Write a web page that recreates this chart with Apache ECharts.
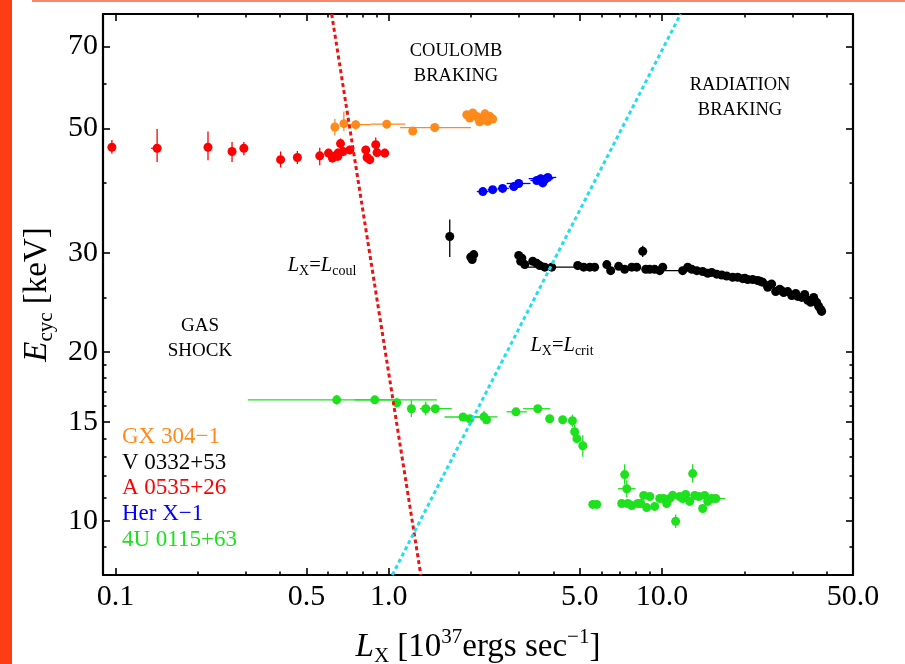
<!DOCTYPE html>
<html>
<head>
<meta charset="utf-8">
<script src="https://cdn.jsdelivr.net/npm/echarts@6/dist/echarts.min.js"></script>
<style>
  html, body { margin: 0; padding: 0; background: #fff; }
  #chart-main { width: 905px; height: 664px; }
</style>
</head>
<body>
<div id="chart-main"></div>
<script>
// axis ranges, ticks
var xRange = [0.09, 50];
var yRange = [8, 80];
var xTickValues = [0.1, 0.5, 1, 5, 10, 50];
var xTickLabels = ['0.1', '0.5', '1.0', '5.0', '10.0', '50.0'];
var xMinorTicks = [0.2, 0.3, 0.4, 0.6, 0.7, 0.8, 0.9, 2, 3, 4, 6, 7, 8, 9, 20, 30, 40];
var yTickValues = [10, 15, 20, 30, 50, 70];
var yTickLabels = ['10', '15', '20', '30', '50', '70'];
var yMinorTicks = [9, 11, 12, 13, 14, 16, 17, 18, 19, 25, 40, 60];

// rows: [Lx, Ecyc, Lx min, Lx max, Ecyc min, Ecyc max] (null = no bar)
var gx304 = [
  [0.635, 50.3, null, null, 48.6, 52.0],
  [0.685, 51.0, null, null, 49.5, 53.6],
  [0.757, 50.8, 0.69, 0.86, 49.8, 51.8],
  [0.983, 50.9, 0.86, 1.15, 50.0, 51.8],
  [1.224, 49.5, null, null, 48.8, 50.3],
  [1.473, 50.2, 1.10, 2.00, 49.4, 51.0],
  [1.93, 52.9], [1.98, 52.2], [2.03, 53.3], [2.08, 52.6], [2.12, 52.4],
  [2.15, 51.4], [2.21, 51.8], [2.25, 53.1], [2.28, 52.2], [2.34, 52.6],
  [2.40, 52.0], [2.30, 51.5]
];
var v0332 = [
  [1.672, 32.1, null, null, 29.5, 34.4],
  [1.995, 29.5], [2.047, 29.8], [2.02, 29.2],
  [2.99, 29.7], [3.04, 29.0], [3.07, 29.35], [3.146, 28.6],
  [3.364, 29.0], [3.479, 28.75], [3.568, 28.5], [3.723, 28.3],
  [3.948, 28.3, 3.146, 5.44, null, null],
  [4.915, 28.5], [5.17, 28.3], [5.44, 28.3], [5.67, 28.3], [6.28, 28.6],
  [6.49, 27.9], [6.94, 28.4], [7.30, 28.05], [7.75, 28.3], [8.08, 28.3],
  [8.50, 30.2, null, null, 29.5, 30.9], [8.72, 28.05], [9.02, 28.05],
  [9.40, 28.05], [9.81, 27.9], [10.06, 28.3],
  [11.9, 27.9, 9.8, 14.5, null, null], [12.42, 28.3], [12.85, 28.05],
  [13.4, 27.9], [14.09, 27.8], [14.7, 27.6], [15.2, 27.7], [15.86, 27.5],
  [16.54, 27.4], [17.25, 27.3], [18.14, 27.15], [18.92, 27.15], [19.74, 27.0],
  [20.1, 27.05], [20.59, 26.9], [21.47, 26.9], [22.4, 26.8], [22.9, 26.7],
  [23.36, 26.6], [24.37, 26.06], [24.8, 26.3], [25.2, 26.4], [26.06, 25.6],
  [26.96, 25.85], [27.4, 25.7], [27.88, 25.5], [28.84, 25.6], [29.83, 25.2],
  [30.85, 25.4], [31.37, 25.1], [32.45, 25.0], [33.28, 25.3], [34.13, 24.7],
  [35.0, 24.5], [35.9, 25.0], [36.8, 24.5], [37.45, 24.1], [38.07, 23.8],
  [38.4, 23.6]
];
var a0535 = [
  [0.097, 46.3, null, null, 45.1, 47.7],
  [0.142, 46.1, 0.135, null, 43.6, 49.9],
  [0.218, 46.3, null, null, 43.9, 49.4],
  [0.267, 45.5, null, null, 43.6, 47.3],
  [0.295, 46.1, null, null, 44.8, 47.3],
  [0.402, 44.0, null, null, 42.6, 45.5],
  [0.463, 44.4, null, null, 43.2, 45.6],
  [0.559, 44.7, null, null, 43.0, 46.2],
  [0.602, 45.2, null, null, 44.4, 46.0],
  [0.622, 44.3, null, null, 43.5, 45.1],
  [0.635, 44.6, null, null, 43.8, 45.4],
  [0.651, 44.6, null, null, 43.8, 45.4],
  [0.652, 45.2, null, null, 44.4, 46.0],
  [0.666, 47.0, null, null, 46.0, 48.0],
  [0.681, 45.5, null, null, 44.7, 46.3],
  [0.720, 45.8, null, null, 45.0, 46.6],
  [0.824, 45.8, null, null, 45.0, 46.6],
  [0.833, 44.4, null, null, 43.6, 45.2],
  [0.852, 44.0, null, null, 43.2, 44.8],
  [0.896, 46.8, null, null, 45.3, 48.2],
  [0.906, 45.3, null, null, 44.5, 46.1],
  [0.967, 45.2, null, null, 44.4, 46.0]
];
var herX1 = [
  [2.21, 38.6, 2.10, 2.32, null, null],
  [2.40, 38.9, 2.30, 2.50, null, null],
  [2.61, 39.1, 2.50, 2.75, null, null],
  [2.87, 39.4, 2.75, 3.00, null, null],
  [2.99, 39.9, 2.70, 3.30, 39.3, 40.5],
  [3.48, 40.4, 3.30, 3.65, null, null],
  [3.60, 40.7, 3.25, 4.00, 40.0, 41.4],
  [3.66, 40.0], [3.72, 40.5],
  [3.82, 40.9, 3.60, 4.10, null, null]
];
var u0115 = [
  [0.645, 16.42, 0.305, 1.10, 16.1, 16.75],
  [0.889, 16.42, 0.75, 1.50, null, null],
  [1.07, 16.22, null, null, 15.9, 16.55],
  [1.21, 15.83, null, null, 15.3, 16.4],
  [1.366, 15.83, null, null, 15.4, 16.3],
  [1.48, 15.83, 1.30, 1.70, null, null],
  [1.87, 15.3, 1.60, 2.20, null, null],
  [1.98, 15.19],
  [2.23, 15.31, 2.00, 2.50, 14.9, 15.7],
  [2.28, 15.13],
  [2.92, 15.63, 2.70, 3.20, null, null],
  [3.51, 15.83, 3.10, 3.90, null, null],
  [3.88, 15.19], [4.33, 15.13],
  [4.70, 15.07, null, null, 14.7, 15.45],
  [4.79, 14.4, null, null, 14.0, 14.8],
  [4.88, 14.0],
  [5.13, 13.6, null, null, 13.0, 14.2],
  [5.58, 10.69, 5.4, 5.75, null, null], [5.77, 10.69], [7.12, 10.73],
  [7.30, 12.08, null, null, 11.6, 12.6],
  [7.43, 11.4, 6.9, 8.0, 11.0, 11.8],
  [7.50, 10.73], [7.75, 10.64, 7.3, 8.2, null, null], [8.15, 10.73],
  [8.36, 10.73], [8.57, 11.09], [8.79, 10.55], [9.02, 11.04], [9.40, 10.6],
  [9.81, 10.95], [10.14, 10.95], [10.4, 10.73], [10.67, 10.95], [10.94, 11.1],
  [11.22, 9.97, null, null, 9.7, 10.25],
  [11.61, 11.04], [11.9, 10.95], [12.21, 11.13], [12.63, 10.82],
  [12.95, 12.13, null, null, 11.7, 12.6],
  [13.17, 11.09], [13.62, 11.04], [14.09, 10.51], [14.33, 11.09], [14.7, 10.82],
  [15.2, 10.95], [15.73, 10.95, 14.6, 17.0, null, null]
];

// boundary lines  L_X = L_coul, L_X = L_crit
var coulLine = [[0.618, 80], [1.31, 8]];
var critLine = [[1.03, 8], [11.7, 80]];

var sources = [
  { name: 'GX 304\u22121', rows: gx304, color: '#ff8a1c' },
  { name: 'V 0332+53', rows: v0332, color: '#000000' },
  { name: 'A 0535+26', rows: a0535, color: '#ff0000' },
  { name: 'Her X\u22121', rows: herX1, color: '#0000ff' },
  { name: '4U 0115+63', rows: u0115, color: '#1ee11e' }
];

var FONT = "'Liberation Serif', 'Times New Roman', serif";
var lg = Math.log10;

function pick(v, d) { return (v === undefined || v === null) ? d : v; }
function toLog(rows) {
  return rows.map(function (r) {
    return [lg(r[0]), lg(r[1]), lg(pick(r[2], r[0])), lg(pick(r[3], r[0])),
      lg(pick(r[4], r[1])), lg(pick(r[5], r[1]))];
  });
}
function labelFor(values, labels) {
  return function (v) {
    for (var i = 0; i < values.length; i++) {
      if (Math.abs(lg(values[i]) - v) < 1e-6) return labels[i];
    }
    return '';
  };
}

// error bars drawn with the grid's own coordinates
function renderErr(params, api) {
  var y = api.value(1), x = api.value(0);
  var color = api.visual('color');
  var kids = [];
  if (api.value(2) !== api.value(3)) {
    var a = api.coord([api.value(2), y]), b = api.coord([api.value(3), y]);
    kids.push({ type: 'line', shape: { x1: a[0], y1: a[1], x2: b[0], y2: b[1] },
      style: { stroke: color, lineWidth: 1.3 } });
  }
  if (api.value(4) !== api.value(5)) {
    var c = api.coord([x, api.value(4)]), d = api.coord([x, api.value(5)]);
    kids.push({ type: 'line', shape: { x1: c[0], y1: c[1], x2: d[0], y2: d[1] },
      style: { stroke: color, lineWidth: 1.3 } });
  }
  return { type: 'group', children: kids };
}

var series = [];
sources.forEach(function (s) {
  var data = toLog(s.rows);
  series.push({
    name: s.name + ' err', type: 'custom', renderItem: renderErr,
    data: data, encode: { x: 0, y: 1 }, itemStyle: { color: s.color }, z: 2, silent: true
  });
  series.push({
    name: s.name, type: 'scatter', symbol: 'circle', symbolSize: 9,
    data: data.map(function (d) { return [d[0], d[1]]; }),
    itemStyle: { color: s.color, opacity: 1 }, z: 3, silent: true
  });
});
series.push({
  type: 'line', data: coulLine.map(function (p) { return [lg(p[0]), lg(p[1])]; }),
  showSymbol: false, symbol: 'none', lineStyle: { color: '#ee1111', width: 3, type: [4, 3] }, z: 4, silent: true
});
series.push({
  type: 'line', data: critLine.map(function (p) { return [lg(p[0]), lg(p[1])]; }),
  showSymbol: false, symbol: 'none', lineStyle: { color: '#22dcef', width: 3, type: [4, 3] }, z: 4, silent: true
});

var richAxis = {
  i: { fontFamily: FONT, fontStyle: 'italic', fontSize: 33, lineHeight: 40, verticalAlign: 'middle', color: '#000' },
  n: { fontFamily: FONT, fontSize: 33, lineHeight: 40, verticalAlign: 'middle', color: '#000' },
  sub: { fontFamily: FONT, fontSize: 21, lineHeight: 22, verticalAlign: 'bottom', color: '#000' },
  sup: { fontFamily: FONT, fontSize: 21, lineHeight: 22, verticalAlign: 'top', color: '#000' }
};

function makeAxis(dim, position, major, withLabels, extra) {
  var range = dim === 'x' ? xRange : yRange;
  var ticks = major ? (dim === 'x' ? xTickValues : yTickValues) : (dim === 'x' ? xMinorTicks : yMinorTicks);
  var ax = {
    type: 'value', position: position, min: lg(range[0]), max: lg(range[1]),
    axisLine: { show: major, onZero: false, lineStyle: { color: '#000', width: 2.2 } },
    axisTick: { show: true, inside: true, length: major ? 7 : 3.5,
      customValues: ticks.map(lg), lineStyle: { color: '#000', width: 1.6 } },
    axisLabel: { show: false },
    splitLine: { show: false }
  };
  if (withLabels) {
    ax.axisLabel = {
      show: true, customValues: ticks.map(lg),
      formatter: dim === 'x' ? labelFor(xTickValues, xTickLabels) : labelFor(yTickValues, yTickLabels),
      fontFamily: FONT, fontSize: 30, color: '#000', margin: dim === 'x' ? 7 : 5
    };
  }
  for (var k in extra) ax[k] = extra[k];
  return ax;
}

var xAxes = [
  makeAxis('x', 'bottom', true, true, {
    name: '{i|L}{sub|X}{n| [10}{sup|37}{n|ergs sec}{sup|\u22121}{n|]}',
    nameLocation: 'middle', nameGap: 52,
    nameTextStyle: { fontFamily: FONT, fontSize: 33, color: '#000', rich: richAxis }
  }),
  makeAxis('x', 'bottom', false, false, {}),
  makeAxis('x', 'top', true, false, {}),
  makeAxis('x', 'top', false, false, {})
];
var yAxes = [
  makeAxis('y', 'left', true, true, {
    name: '{i|E}{sub|cyc}{n| [keV]}',
    nameLocation: 'middle', nameGap: 43,
    nameTextStyle: { fontFamily: FONT, fontSize: 33, color: '#000', rich: richAxis }
  }),
  makeAxis('y', 'left', false, false, {}),
  makeAxis('y', 'right', true, false, {}),
  makeAxis('y', 'right', false, false, {})
];

function txt(x, y, text, size, color, extra) {
  var el = {
    type: 'text', x: x, y: y, z: 10, silent: true,
    style: { text: text, fontFamily: FONT, fontSize: size, fill: color, lineHeight: size + 6,
      align: 'center', textAlign: 'center', verticalAlign: 'middle', textVerticalAlign: 'middle' }
  };
  if (extra) for (var k in extra) el.style[k] = extra[k];
  return el;
}
var richTag = {
  i: { fontFamily: FONT, fontStyle: 'italic', fontSize: 20.5, lineHeight: 24, verticalAlign: 'middle' },
  n: { fontFamily: FONT, fontSize: 20.5, lineHeight: 24, verticalAlign: 'middle' },
  sub: { fontFamily: FONT, fontSize: 14, lineHeight: 14, verticalAlign: 'bottom' }
};

var graphics = [
  { type: 'rect', shape: { x: 0, y: 0, width: 12, height: 664 }, style: { fill: '#ff3d14' }, silent: true },
  { type: 'rect', shape: { x: 32, y: 0, width: 873, height: 2 }, style: { fill: '#f7876d' }, silent: true },
  txt(456, 64, 'COULOMB\nBRAKING', 18.5, '#000', { lineHeight: 25 }),
  txt(740, 98, 'RADIATION\nBRAKING', 18.5, '#000', { lineHeight: 25 }),
  txt(200, 339, 'GAS\nSHOCK', 19, '#000', { lineHeight: 25 }),
  txt(322, 266, '{i|L}{sub|X}{n|=}{i|L}{sub|coul}', 20.5, '#000', { rich: richTag }),
  txt(562, 346, '{i|L}{sub|X}{n|=}{i|L}{sub|crit}', 20.5, '#000', { rich: richTag })
];
sources.forEach(function (s, i) {
  graphics.push(txt(122, 437 + i * 25.7, s.name, 23, s.color, { align: 'left', textAlign: 'left' }));
});

var chart = echarts.init(document.getElementById('chart-main'));
chart.setOption({
  animation: false,
  backgroundColor: '#fff',
  grid: { left: 103, right: 52, top: 14, bottom: 89, containLabel: false, outerBoundsMode: 'none' },
  xAxis: xAxes,
  yAxis: yAxes,
  series: series,
  graphic: graphics
});
</script>
</body>
</html>
